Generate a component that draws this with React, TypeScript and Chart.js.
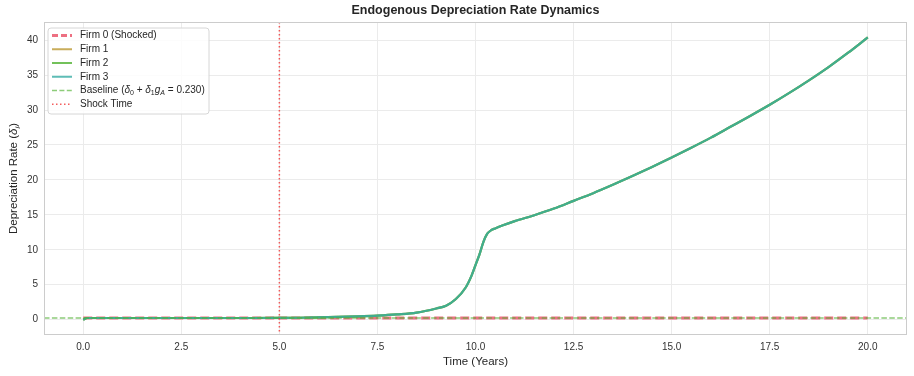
import React, { useEffect, useRef } from "react";
import { Chart, registerables } from "chart.js";

Chart.register(...registerables);

const FONT = '"Liberation Sans", Arial, Helvetica, sans-serif';

// Data
const timeYears = [0, 0.1, 1, 2, 3, 4, 5, 5.5, 6, 6.5, 7, 7.5, 8, 8.5, 9, 9.25, 9.5, 9.75, 9.9, 10.0, 10.1, 10.2, 10.3, 10.4, 10.5, 10.7, 11, 11.5, 12, 12.5, 13, 13.5, 14, 14.5, 15, 15.5, 16, 16.5, 17, 17.5, 18, 18.5, 19, 19.5, 20];
const firm0Rate = [0.23, 0.23, 0.23, 0.23, 0.23, 0.23, 0.23, 0.23, 0.23, 0.23, 0.23, 0.23, 0.23, 0.23, 0.23, 0.23, 0.23, 0.23, 0.23, 0.23, 0.23, 0.23, 0.23, 0.23, 0.23, 0.23, 0.23, 0.23, 0.23, 0.23, 0.23, 0.23, 0.23, 0.23, 0.23, 0.23, 0.23, 0.23, 0.23, 0.23, 0.23, 0.23, 0.23, 0.23, 0.23];
const firm1Rate = [0.0, 0.23, 0.23, 0.23, 0.23, 0.23, 0.24, 0.27, 0.32, 0.38, 0.46, 0.57, 0.74, 1.0, 1.6, 2.0, 2.95, 4.6, 6.3, 7.8, 9.3, 11.1, 12.3, 12.8, 13.05, 13.5, 14.1, 14.95, 15.9, 17.0, 18.1, 19.3, 20.55, 21.85, 23.2, 24.6, 26.05, 27.6, 29.15, 30.75, 32.45, 34.25, 36.15, 38.2, 40.4];
const firm2Rate = [0.0, 0.23, 0.23, 0.23, 0.23, 0.23, 0.24, 0.27, 0.32, 0.38, 0.46, 0.57, 0.74, 1.0, 1.6, 2.0, 2.95, 4.6, 6.3, 7.8, 9.3, 11.1, 12.3, 12.8, 13.05, 13.5, 14.1, 14.95, 15.9, 17.0, 18.1, 19.3, 20.55, 21.85, 23.2, 24.6, 26.05, 27.6, 29.15, 30.75, 32.45, 34.25, 36.15, 38.2, 40.4];
const firm3Rate = [0.0, 0.23, 0.23, 0.23, 0.23, 0.23, 0.24, 0.27, 0.32, 0.38, 0.46, 0.57, 0.74, 1.0, 1.6, 2.0, 2.95, 4.6, 6.3, 7.8, 9.3, 11.1, 12.3, 12.8, 13.05, 13.5, 14.1, 14.95, 15.9, 17.0, 18.1, 19.3, 20.55, 21.85, 23.2, 24.6, 26.05, 27.6, 29.15, 30.75, 32.45, 34.25, 36.15, 38.2, 40.4];
const baselineRate = 0.23;
const shockTime = 5;
const xTicks = [0, 2.5, 5, 7.5, 10, 12.5, 15, 17.5, 20];
const yTicks = [0, 5, 10, 15, 20, 25, 30, 35, 40];
const xRange = [-1, 21];
const yRange = [-2.2, 42.6];

const title = "Endogenous Depreciation Rate Dynamics";
const xTitle = "Time (Years)";

const C_FIRM0 = "rgba(235,96,116,0.9)";
const C_FIRM1 = "rgba(187,152,50,0.8)";
const C_FIRM2 = "rgba(80,177,49,0.8)";
const C_FIRM3 = "rgba(54,173,164,0.8)";
const C_BASE = "rgba(80,177,49,0.65)";
const C_SHOCK = "rgba(240,40,40,0.75)";

type Seg = { t: string; it?: boolean; sub?: boolean };

function drawSegs(ctx: CanvasRenderingContext2D, segs: Seg[], x: number, y: number, size: number) {
  let cx = x;
  ctx.textBaseline = "middle";
  ctx.textAlign = "left";
  for (const s of segs) {
    const fs = s.sub ? size * 0.7 : size;
    ctx.font = `${s.it ? "italic " : ""}${fs}px ${FONT}`;
    ctx.fillText(s.t, cx, s.sub ? y + size * 0.3 : y);
    cx += ctx.measureText(s.t).width;
  }
}

const overlayPlugin = {
  id: "overlay",
  afterDatasetsDraw(chart: any) {
    const { ctx, chartArea, scales } = chart;
    const yb = scales.y.getPixelForValue(baselineRate);
    const xs = scales.x.getPixelForValue(shockTime);
    ctx.save();
    ctx.beginPath();
    ctx.rect(chartArea.left, chartArea.top, chartArea.right - chartArea.left, chartArea.bottom - chartArea.top);
    ctx.clip();
    ctx.strokeStyle = C_BASE;
    ctx.lineWidth = 1.5;
    ctx.setLineDash([5.5, 2.4]);
    ctx.beginPath();
    ctx.moveTo(chartArea.left, yb);
    ctx.lineTo(chartArea.right, yb);
    ctx.stroke();
    ctx.strokeStyle = C_SHOCK;
    ctx.setLineDash([1.5, 2.5]);
    ctx.beginPath();
    ctx.moveTo(xs, chartArea.top);
    ctx.lineTo(xs, chartArea.bottom);
    ctx.stroke();
    ctx.restore();
  },
  afterDraw(chart: any) {
    const { ctx, chartArea } = chart;
    ctx.save();
    // frame
    ctx.strokeStyle = "#cccccc";
    ctx.lineWidth = 1;
    ctx.setLineDash([]);
    ctx.strokeRect(chartArea.left + 0.5, chartArea.top + 0.5, chartArea.right - chartArea.left - 1, chartArea.bottom - chartArea.top - 1);
    // title
    ctx.fillStyle = "#262626";
    ctx.font = `bold 12.5px ${FONT}`;
    ctx.textAlign = "center";
    ctx.textBaseline = "middle";
    ctx.fillText(title, (chartArea.left + chartArea.right) / 2, 11);
    // x title
    ctx.font = `11.5px ${FONT}`;
    ctx.fillText(xTitle, (chartArea.left + chartArea.right) / 2, 362);
    // y title
    ctx.save();
    ctx.translate(14, (chartArea.top + chartArea.bottom) / 2);
    ctx.rotate(-Math.PI / 2);
    const ySegs: Seg[] = [{ t: "Depreciation Rate (" }, { t: "δ", it: true }, { t: "i", it: true, sub: true }, { t: ")" }];
    let w = 0;
    for (const s of ySegs) {
      ctx.font = `${s.it ? "italic " : ""}${s.sub ? 11.5 * 0.7 : 11.5}px ${FONT}`;
      w += ctx.measureText(s.t).width;
    }
    drawSegs(ctx, ySegs, -w / 2, 0, 11.5);
    ctx.restore();

    // legend
    const lx = 48, ly = 28, lw = 161, lh = 86;
    ctx.beginPath();
    const r = 3;
    ctx.moveTo(lx + r, ly);
    ctx.arcTo(lx + lw, ly, lx + lw, ly + lh, r);
    ctx.arcTo(lx + lw, ly + lh, lx, ly + lh, r);
    ctx.arcTo(lx, ly + lh, lx, ly, r);
    ctx.arcTo(lx, ly, lx + lw, ly, r);
    ctx.closePath();
    ctx.fillStyle = "rgba(255,255,255,0.85)";
    ctx.fill();
    ctx.strokeStyle = "#d6d6d6";
    ctx.lineWidth = 1;
    ctx.stroke();

    const items: { color: string; width: number; dash: number[]; segs: Seg[] }[] = [
      { color: C_FIRM0, width: 2.8, dash: [6, 3], segs: [{ t: "Firm 0 (Shocked)" }] },
      { color: C_FIRM1, width: 2, dash: [], segs: [{ t: "Firm 1" }] },
      { color: C_FIRM2, width: 2, dash: [], segs: [{ t: "Firm 2" }] },
      { color: C_FIRM3, width: 2, dash: [], segs: [{ t: "Firm 3" }] },
      {
        color: C_BASE, width: 1.5, dash: [5, 2.4],
        segs: [
          { t: "Baseline (" }, { t: "δ", it: true }, { t: "0", sub: true }, { t: " + " },
          { t: "δ", it: true }, { t: "1", sub: true }, { t: "g", it: true }, { t: "A", it: true, sub: true },
          { t: " = 0.230)" },
        ],
      },
      { color: C_SHOCK, width: 1.5, dash: [1.5, 2.5], segs: [{ t: "Shock Time" }] },
    ];
    items.forEach((it, i) => {
      const y = 35.5 + i * 13.75;
      ctx.strokeStyle = it.color;
      ctx.lineWidth = it.width;
      ctx.setLineDash(it.dash);
      ctx.beginPath();
      ctx.moveTo(52, y);
      ctx.lineTo(72, y);
      ctx.stroke();
      ctx.setLineDash([]);
      ctx.fillStyle = "#262626";
      drawSegs(ctx, it.segs, 80, y, 10);
    });
    ctx.restore();
  },
};

function pts(vals: number[]) {
  return timeYears.map((t, i) => ({ x: t, y: vals[i] }));
}

export default function App() {
  const ref = useRef<HTMLCanvasElement | null>(null);
  useEffect(() => {
    document.body.style.margin = "0";
    const canvas = ref.current;
    if (!canvas) return;
    const chart = new Chart(canvas, {
      type: "line",
      data: {
        datasets: [
          { label: "Firm 0 (Shocked)", data: pts(firm0Rate), borderColor: C_FIRM0, borderWidth: 3, borderDash: [9, 4], pointRadius: 0, order: 4 },
          { label: "Firm 1", data: pts(firm1Rate), borderColor: C_FIRM1, borderWidth: 2.2, pointRadius: 0, cubicInterpolationMode: "monotone", order: 3 },
          { label: "Firm 2", data: pts(firm2Rate), borderColor: C_FIRM2, borderWidth: 2.2, pointRadius: 0, cubicInterpolationMode: "monotone", order: 2 },
          { label: "Firm 3", data: pts(firm3Rate), borderColor: C_FIRM3, borderWidth: 2.2, pointRadius: 0, cubicInterpolationMode: "monotone", order: 1 },
        ] as any,
      },
      options: {
        animation: false,
        responsive: false,
        maintainAspectRatio: false,
        layout: { padding: { top: 22, right: 7, left: 0, bottom: 0 } },
        plugins: { legend: { display: false }, title: { display: false }, tooltip: { enabled: false } },
        scales: {
          x: {
            type: "linear",
            min: xRange[0],
            max: xRange[1],
            afterFit: (s: any) => { s.height = 41; },
            afterBuildTicks: (s: any) => { s.ticks = xTicks.map((v) => ({ value: v })); },
            ticks: { font: { family: FONT, size: 10 }, color: "#333333", padding: 6, maxRotation: 0, callback: (v: any) => Number(v).toFixed(1) },
            grid: { color: "#ebebeb", lineWidth: 1, drawTicks: false },
            border: { display: false },
          },
          y: {
            type: "linear",
            min: yRange[0],
            max: yRange[1],
            afterFit: (s: any) => { s.width = 44; },
            afterBuildTicks: (s: any) => { s.ticks = yTicks.map((v) => ({ value: v })); },
            ticks: { font: { family: FONT, size: 10 }, color: "#333333", padding: 6, callback: (v: any) => String(v) },
            grid: { color: "#ebebeb", lineWidth: 1, drawTicks: false },
            border: { display: false },
          },
        },
      } as any,
      plugins: [overlayPlugin],
    });
    return () => chart.destroy();
  }, []);
  return (
    <div style={{ width: 914, height: 376 }}>
      <canvas ref={ref} width={914} height={376} style={{ display: "block" }} />
    </div>
  );
}
